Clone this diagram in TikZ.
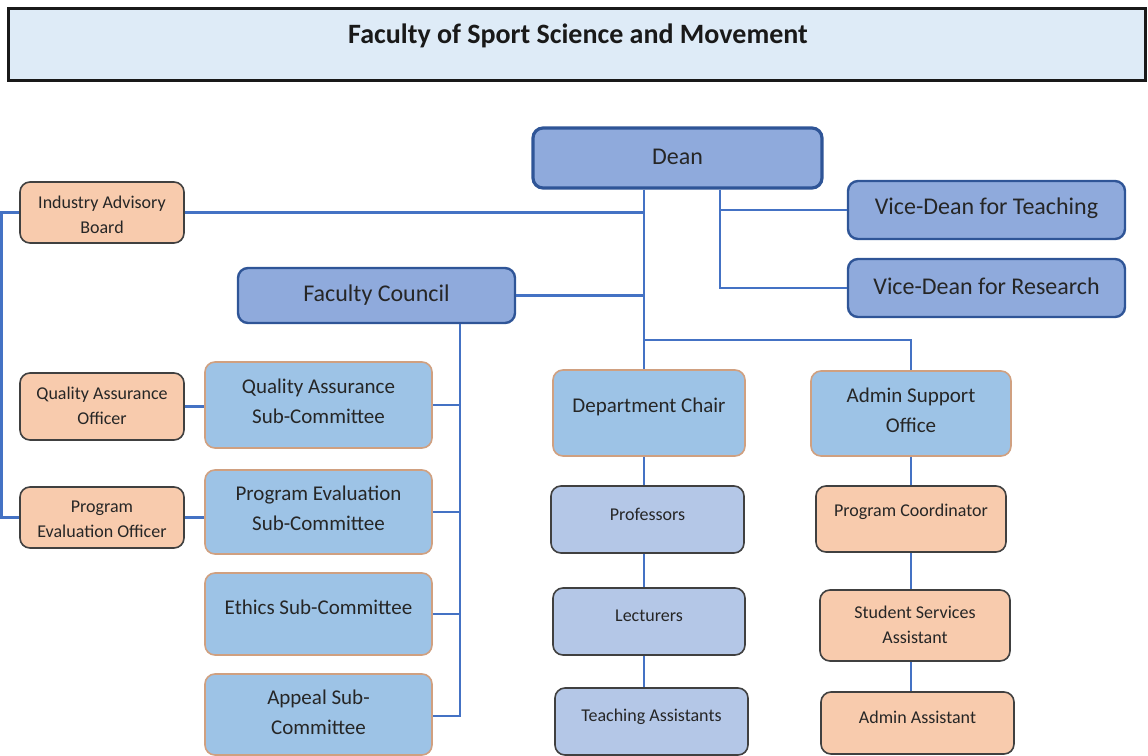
\documentclass[tikz,border=0pt]{standalone}
\usepackage{fontspec}
\setmainfont{Carlito}
\begin{document}
\begin{tikzpicture}[x=0.5pt,y=-0.5pt,
  box/.style={rounded corners=5pt,inner sep=0pt},
  lead/.style={box,fill=leadfill,draw=leadline,line width=1.2pt},
  deanbox/.style={lead,line width=1.6pt},
  sub/.style={box,fill=subfill,draw=subline,line width=0.8pt},
  staff/.style={box,fill=stafffill,draw=grayline,line width=0.8pt},
  orng/.style={box,fill=orfill,draw=grayline,line width=0.8pt},
  txt/.style={align=center,text=black!85,inner sep=0pt},
  leadtxt/.style={txt,font=\fontsize{12}{14}\selectfont},
  deanboxtxt/.style={leadtxt},
  subtxt/.style={txt,font=\fontsize{10.5}{15}\selectfont},
  stafftxt/.style={txt,font=\fontsize{9}{12.5}\selectfont},
  orngtxt/.style={txt,font=\fontsize{9}{12.5}\selectfont},
  conn/.style={draw=connline,line width=1.25pt}]
\definecolor{leadfill}{HTML}{8FAADC}
\definecolor{leadline}{HTML}{2F5597}
\definecolor{subfill}{HTML}{9DC3E6}
\definecolor{subline}{HTML}{D0A080}
\definecolor{stafffill}{HTML}{B4C7E7}
\definecolor{orfill}{HTML}{F8CBAD}
\definecolor{grayline}{HTML}{404040}
\definecolor{connline}{HTML}{4472C4}
\definecolor{titlefill}{HTML}{DEEBF7}
\useasboundingbox (0,0) rectangle (1148,756);
\newcommand\bx[8]{%
  \node[#1,minimum width={(#4-#2)*0.5pt},minimum height={(#5-#3)*0.5pt}] (#6) at ({(#2+#4)/2},{(#3+#5)/2}) {};
  \node[#1txt] (#6-t) at ({(#2+#4)/2},{(#3+#5)/2+#8}) {#7};}
% title
\node[draw=black!90,line width=1.3pt,fill=titlefill,minimum width={1137*0.5pt},minimum height={72*0.5pt},inner sep=0pt] (title) at (577,44.5) {};
\node[font=\fontsize{14}{16}\selectfont\bfseries,text=black!90] (ttext) at (578,36) {Faculty of Sport Science and Movement};
% leadership
\bx{deanbox}{533}{128}{822}{188}{dean}{Dean}{-1}
\bx{lead}{848}{181}{1125}{239}{vdt}{Vice-Dean for Teaching}{-2}
\bx{lead}{848}{259}{1125}{317}{vdr}{Vice-Dean for Research}{-2}
\bx{lead}{238}{268}{515}{323}{fc}{Faculty Council}{0}
% orange advisory
\bx{orng}{20}{182}{184}{243}{iab}{Industry Advisory\\Board}{2}
\bx{orng}{20}{373}{184}{440}{qao}{Quality Assurance\\Officer}{-1}
\bx{orng}{20}{487}{184}{548}{peo}{Program\\Evaluation Officer}{2}
% sub-committees
\bx{sub}{205}{362}{432}{448}{qasc}{Quality Assurance\\Sub-Committee}{-4}
\bx{sub}{205}{470}{432}{554}{pesc}{Program Evaluation\\Sub-Committee}{-4}
\bx{sub}{205}{573}{432}{655}{eth}{Ethics Sub-Committee}{-7}
\bx{sub}{205}{674}{432}{755}{apl}{Appeal Sub-\\Committee}{-2}
% departments
\bx{sub}{553}{370}{745}{456}{dc}{Department Chair}{-6}
\bx{sub}{811}{371}{1011}{456}{aso}{Admin Support\\Office}{-3}
\bx{staff}{551}{486}{744}{553}{prof}{Professors}{-5}
\bx{staff}{553}{588}{745}{655}{lect}{Lecturers}{-6}
\bx{staff}{555}{688}{748}{755}{ta}{Teaching Assistants}{-5}
\bx{orng}{816}{486}{1006}{552}{pc}{Program Coordinator}{-7}
\bx{orng}{820}{590}{1010}{661}{ssa}{Student Services\\Assistant}{-1}
\bx{orng}{821}{692}{1014}{754}{aa}{Admin Assistant}{-6}
% junctions
\coordinate (j1) at (644,340);
\coordinate (j2) at (720,290);
\coordinate (j3) at (460,716);
\coordinate (l1) at (1.5,0);
% connectors
\draw[conn] (dean.south -| j1) -- (j1) -| (aso.north);
\draw[conn] (j1) -- (dc.north -| j1);
\draw[conn] (iab.east) -- (iab.east -| j1);
\draw[conn] (fc.east) -- (fc.east -| j1);
\draw[conn] (dean.south -| j2) |- (vdr.west);
\draw[conn] (vdt.west) -- (vdt.west -| j2);
\draw[conn] (fc.south -| j3) -- (j3) -- (apl.east |- j3);
\draw[conn] (qasc.east) -- (qasc.east -| j3);
\draw[conn] (pesc.east) -- (pesc.east -| j3);
\draw[conn] (eth.east) -- (eth.east -| j3);
\draw[conn] (qao.east) -- (qasc.west |- qao.east);
\draw[conn] (peo.east) -- (pesc.west |- peo.east);
\draw[conn] (iab.west) -- (iab.west -| l1) -- (peo.west -| l1) -- (peo.west);
\draw[conn] (dc.south -| j1) -- (prof.north -| j1);
\draw[conn] (prof.south -| j1) -- (lect.north -| j1);
\draw[conn] (lect.south -| j1) -- (ta.north -| j1);
\draw[conn] (aso.south) -- (pc.north -| aso.south);
\draw[conn] (pc.south -| aso.south) -- (ssa.north -| aso.south);
\draw[conn] (ssa.south -| aso.south) -- (aa.north -| aso.south);
\end{tikzpicture}
\end{document}
